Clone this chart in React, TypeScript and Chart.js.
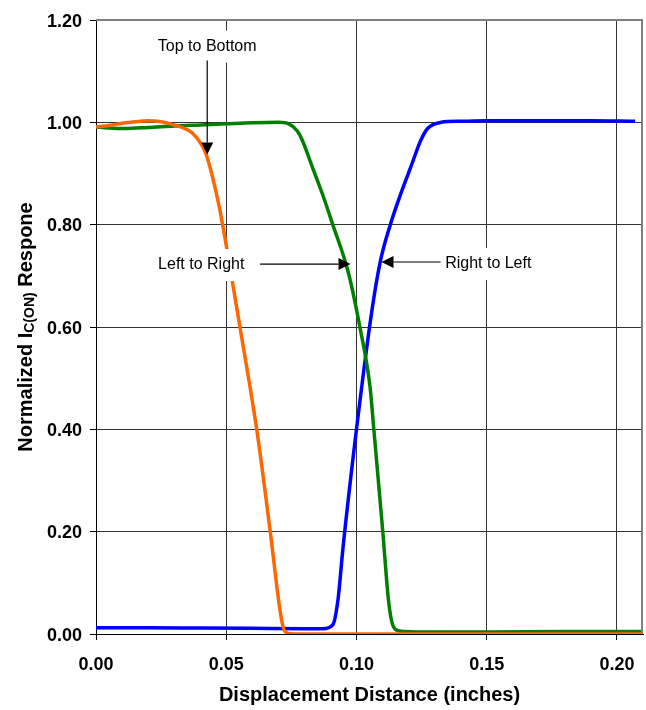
import { useEffect, useRef } from "react";
import { Chart, registerables } from "chart.js";

Chart.register(...registerables);

// ---- tick values ----
const xTickValues = [0, 0.05, 0.1, 0.15, 0.2];
const yTickValues = [0, 0.2, 0.4, 0.6, 0.8, 1.0, 1.2];

// ---- series: Top to Bottom (orange) ----
const topToBottomX = [0, 0.005, 0.01, 0.015, 0.02, 0.025, 0.03, 0.034, 0.037, 0.0403, 0.0422, 0.0448, 0.0474, 0.05, 0.0552, 0.0617, 0.0669, 0.0708, 0.0722, 0.074, 0.076, 0.1, 0.15, 0.21];
const topToBottomY = [0.991, 0.994, 0.998, 1.001, 1.003, 1.001, 0.995, 0.988, 0.979, 0.958, 0.939, 0.892, 0.833, 0.76, 0.602, 0.4, 0.2, 0.041, 0.008, 0.001, 0, 0, 0, 0];

// ---- series: Left to Right (green) ----
const leftToRightX = [0, 0.005, 0.0105, 0.02, 0.03, 0.04, 0.05, 0.06, 0.0701, 0.074, 0.0773, 0.0792, 0.0831, 0.087, 0.0909, 0.0968, 0.1013, 0.1052, 0.1067, 0.1101, 0.1122, 0.1135, 0.1152, 0.1185, 0.13, 0.15, 0.18, 0.21];
const leftToRightY = [0.991, 0.989, 0.988, 0.99, 0.993, 0.995, 0.997, 0.999, 1.0, 0.997, 0.983, 0.965, 0.912, 0.859, 0.8, 0.708, 0.6, 0.483, 0.398, 0.2, 0.07, 0.025, 0.008, 0.005, 0.004, 0.004, 0.005, 0.005];

// ---- series: Right to Left (blue) ----
const rightToLeftX = [0, 0.02, 0.04, 0.06, 0.08, 0.087, 0.0909, 0.0929, 0.0948, 0.1, 0.1058, 0.1091, 0.113, 0.1169, 0.1208, 0.1247, 0.1273, 0.1325, 0.14, 0.15, 0.17, 0.19, 0.207];
const rightToLeftY = [0.0124, 0.012, 0.0115, 0.011, 0.0105, 0.0105, 0.018, 0.067, 0.167, 0.4, 0.628, 0.727, 0.8, 0.859, 0.912, 0.965, 0.988, 1.0, 1.002, 1.003, 1.003, 1.003, 1.002];

// ---- texts ----
const xTitle = "Displacement Distance (inches)";
const yTitleMain = "Normalized I";
const yTitleSub = "C(ON)";
const yTitleEnd = " Respone";

// annotations: label, label position (data units), arrow start, arrow tip (data units)
const annotationLabels = ["Top to Bottom", "Left to Right", "Right to Left"];
const annotationLabelX = [0.0427, 0.0404, 0.1506];
const annotationLabelY = [1.15, 0.723, 0.725];
const annotationFromX = [0.0427, 0.063, 0.1323];
const annotationFromY = [1.121, 0.723, 0.727];
const annotationToX = [0.0427, 0.0977, 0.1096];
const annotationToY = [0.937, 0.723, 0.727];

const FONT = '"Liberation Sans", Arial, Helvetica, sans-serif';

const pts = (xs: number[], ys: number[]) => xs.map((x, i) => ({ x, y: ys[i] }));

const overlayPlugin = {
  id: "overlay",
  afterDatasetsDraw(chart: any) {
    const ctx = chart.ctx as CanvasRenderingContext2D;
    const { left, top, right, bottom } = chart.chartArea;
    const xs = chart.scales.x;
    const ys = chart.scales.y;
    ctx.save();
    // gray top and right frame
    ctx.strokeStyle = "#808080";
    ctx.lineWidth = 2;
    ctx.beginPath();
    ctx.moveTo(left, top);
    ctx.lineTo(right - 1, top);
    ctx.lineTo(right - 1, bottom);
    ctx.stroke();

    // annotations
    ctx.font = `16px ${FONT}`;
    ctx.textAlign = "center";
    ctx.textBaseline = "middle";
    annotationLabels.forEach((label, i) => {
      const cx = xs.getPixelForValue(annotationLabelX[i]);
      const cy = ys.getPixelForValue(annotationLabelY[i]);
      const w = ctx.measureText(label).width;
      ctx.fillStyle = "#ffffff";
      ctx.fillRect(cx - w / 2 - 7, cy - 15, w + 14, 32);
      ctx.fillStyle = "#000000";
      ctx.fillText(label, cx, cy + 1);

      const x0 = xs.getPixelForValue(annotationFromX[i]);
      const y0 = ys.getPixelForValue(annotationFromY[i]);
      const x1 = xs.getPixelForValue(annotationToX[i]);
      const y1 = ys.getPixelForValue(annotationToY[i]);
      const ang = Math.atan2(y1 - y0, x1 - x0);
      const headLen = 12;
      const headHalf = 6;
      const bx = x1 - headLen * Math.cos(ang);
      const by = y1 - headLen * Math.sin(ang);
      ctx.strokeStyle = "#000000";
      ctx.lineWidth = 1.2;
      ctx.beginPath();
      ctx.moveTo(x0, y0);
      ctx.lineTo(bx, by);
      ctx.stroke();
      ctx.beginPath();
      ctx.moveTo(x1, y1);
      ctx.lineTo(bx + headHalf * Math.sin(ang), by - headHalf * Math.cos(ang));
      ctx.lineTo(bx - headHalf * Math.sin(ang), by + headHalf * Math.cos(ang));
      ctx.closePath();
      ctx.fillStyle = "#000000";
      ctx.fill();
    });
    ctx.restore();
  },
  afterDraw(chart: any) {
    const ctx = chart.ctx as CanvasRenderingContext2D;
    const { left, top, right, bottom } = chart.chartArea;
    const xs = chart.scales.x;
    const ys = chart.scales.y;
    ctx.save();
    ctx.fillStyle = "#000000";

    // tick labels
    ctx.font = `bold 18px ${FONT}`;
    ctx.textBaseline = "alphabetic";
    ctx.textAlign = "center";
    xTickValues.forEach((v) => {
      ctx.fillText(v.toFixed(2), xs.getPixelForValue(v), 670);
    });
    ctx.textAlign = "right";
    yTickValues.forEach((v) => {
      ctx.fillText(v.toFixed(2), left - 14, ys.getPixelForValue(v) + 6.5);
    });

    // x title
    ctx.font = `bold 20px ${FONT}`;
    ctx.textAlign = "center";
    ctx.fillText(xTitle, (left + right) / 2, 701);

    // y title with subscript
    const mainFont = `bold 20px ${FONT}`;
    const subFont = `bold 14px ${FONT}`;
    ctx.font = mainFont;
    const w1 = ctx.measureText(yTitleMain).width;
    const w3 = ctx.measureText(yTitleEnd).width;
    ctx.font = subFont;
    const w2 = ctx.measureText(yTitleSub).width;
    const total = w1 + w2 + w3;
    ctx.translate(32, (top + bottom) / 2);
    ctx.rotate(-Math.PI / 2);
    ctx.textAlign = "left";
    let px = -total / 2;
    ctx.font = mainFont;
    ctx.fillText(yTitleMain, px, 0);
    px += w1;
    ctx.font = subFont;
    ctx.fillText(yTitleSub, px, 2);
    px += w2;
    ctx.font = mainFont;
    ctx.fillText(yTitleEnd, px, 0);
    ctx.restore();
  },
};

export default function App() {
  const canvasRef = useRef<HTMLCanvasElement | null>(null);

  useEffect(() => {
    const canvas = canvasRef.current;
    if (!canvas) return;
    const lineDs = (label: string, data: any[], color: string) => ({
      label,
      data,
      borderColor: color,
      borderWidth: 3.5,
      pointRadius: 0,
      cubicInterpolationMode: "monotone",
      fill: false,
    });
    const chart = new Chart(canvas, {
      type: "line",
      data: {
        datasets: [
          lineDs("Top to Bottom", pts(topToBottomX, topToBottomY), "#FF6600"),
          lineDs("Left to Right", pts(leftToRightX, leftToRightY), "#008000"),
          lineDs("Right to Left", pts(rightToLeftX, rightToLeftY), "#0000FF"),
        ],
      },
      options: {
        animation: false,
        responsive: false,
        maintainAspectRatio: false,
        devicePixelRatio: 1,
        layout: { padding: { top: 20, right: 3, left: 0, bottom: 0 } },
        plugins: {
          legend: { display: false },
          tooltip: { enabled: false },
          title: { display: false },
        },
        scales: {
          x: {
            type: "linear",
            min: 0,
            max: 0.21,
            afterBuildTicks: (scale: any) => {
              scale.ticks = xTickValues.map((v) => ({ value: v }));
            },
            afterFit: (scale: any) => {
              scale.height = 76;
            },
            grid: {
              color: "#333333",
              lineWidth: 1,
              drawTicks: true,
              tickLength: 6,
              tickColor: "#000000",
            },
            border: { display: true, color: "#000000", width: 1 },
            ticks: { display: false },
          },
          y: {
            type: "linear",
            min: 0,
            max: 1.2,
            afterBuildTicks: (scale: any) => {
              scale.ticks = yTickValues.map((v) => ({ value: v }));
            },
            afterFit: (scale: any) => {
              scale.width = 96;
            },
            grid: {
              color: "#333333",
              lineWidth: 1,
              drawTicks: true,
              tickLength: 6,
              tickColor: "#000000",
            },
            border: { display: true, color: "#000000", width: 1 },
            ticks: { display: false },
          },
        },
      } as any,
      plugins: [overlayPlugin],
    });
    return () => chart.destroy();
  }, []);

  return (
    <div style={{ position: "absolute", left: 0, top: 0, width: 646, height: 710, background: "#ffffff" }}>
      <canvas ref={canvasRef} width={646} height={710} style={{ display: "block", width: 646, height: 710 }} />
    </div>
  );
}
